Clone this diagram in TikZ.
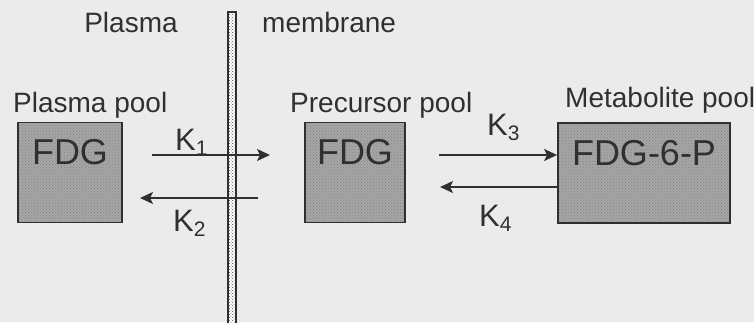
\documentclass[tikz,border=0pt]{standalone}
\usepackage{fontspec}
\setmainfont{Liberation Sans}
\usetikzlibrary{arrows.meta,patterns}
\definecolor{paper}{HTML}{EBEBEB}
\definecolor{ink}{HTML}{303030}
\definecolor{poolgray}{HTML}{A6A6A6}
\newcommand{\rate}[1]{K{\fontsize{21}{21}\selectfont\raisebox{-5pt}{#1}}}

\begin{document}
\begin{tikzpicture}[x=1pt,y=-1pt,
  pool/.style={draw=ink,line width=1.8pt,preaction={fill=poolgray},pattern=crosshatch dots,
    pattern color=ink!60,inner sep=0pt,minimum height=100pt,text height=26pt,text depth=42pt,
    font=\fontsize{36}{36}\selectfont,text=ink},
  caption/.style={font=\fontsize{28}{28}\selectfont,text=ink,inner sep=0pt,anchor=base west},
  flux/.style={draw=ink,line width=1.6pt,-{Stealth[length=13pt,width=12pt,inset=3pt]}},
  ratelabel/.style={font=\fontsize{31}{31}\selectfont,text=ink,inner sep=0pt,anchor=base west}]
  \fill[paper] (0,0) rectangle (754,322);
  \useasboundingbox (0,0) rectangle (754,322);
  % membrane
  \draw[ink,line width=1.4pt,preaction={fill=white},pattern=crosshatch dots,pattern color=ink!80]
    (228,12) rectangle (236,330);
  \node[caption,anchor=base] (plasmatitle) at (131,32) {Plasma};
  \node[caption] (membranetitle) at (262,32) {membrane};
  % pools
  \node[caption] (plasmacap) at (13,112) {Plasma pool};
  \node[caption] (precursorcap) at (290,112) {Precursor pool};
  \node[caption] (metabolitecap) at (565,107) {Metabolite pool};
  \node[pool,minimum width=104pt] (plasma) at (70,172.5) {FDG};
  \node[pool,minimum width=100pt] (precursor) at (355,172.5) {FDG};
  \node[pool,minimum width=172pt] (metabolite) at (644,173) {FDG-6-P};
  % rate constants
  \coordinate (k1s) at (152,155);
  \coordinate (k1e) at (270,155);
  \coordinate (k2s) at (258,198);
  \coordinate (k2e) at (140,198);
  \coordinate (k3s) at (439,155);
  \coordinate (k4e) at (440,187);
  \draw[flux] (k1s) -- (k1e);
  \draw[flux] (k2s) -- (k2e);
  \draw[flux] (k3s) -- (k3s -| metabolite.west);
  \draw[flux] (k4e -| metabolite.west) -- (k4e);
  \node[ratelabel] (k1) at (175,150) {\rate{1}};
  \node[ratelabel] (k2) at (173,231) {\rate{2}};
  \node[ratelabel] (k3) at (487,135) {\rate{3}};
  \node[ratelabel] (k4) at (479,226) {\rate{4}};
\end{tikzpicture}
\end{document}
